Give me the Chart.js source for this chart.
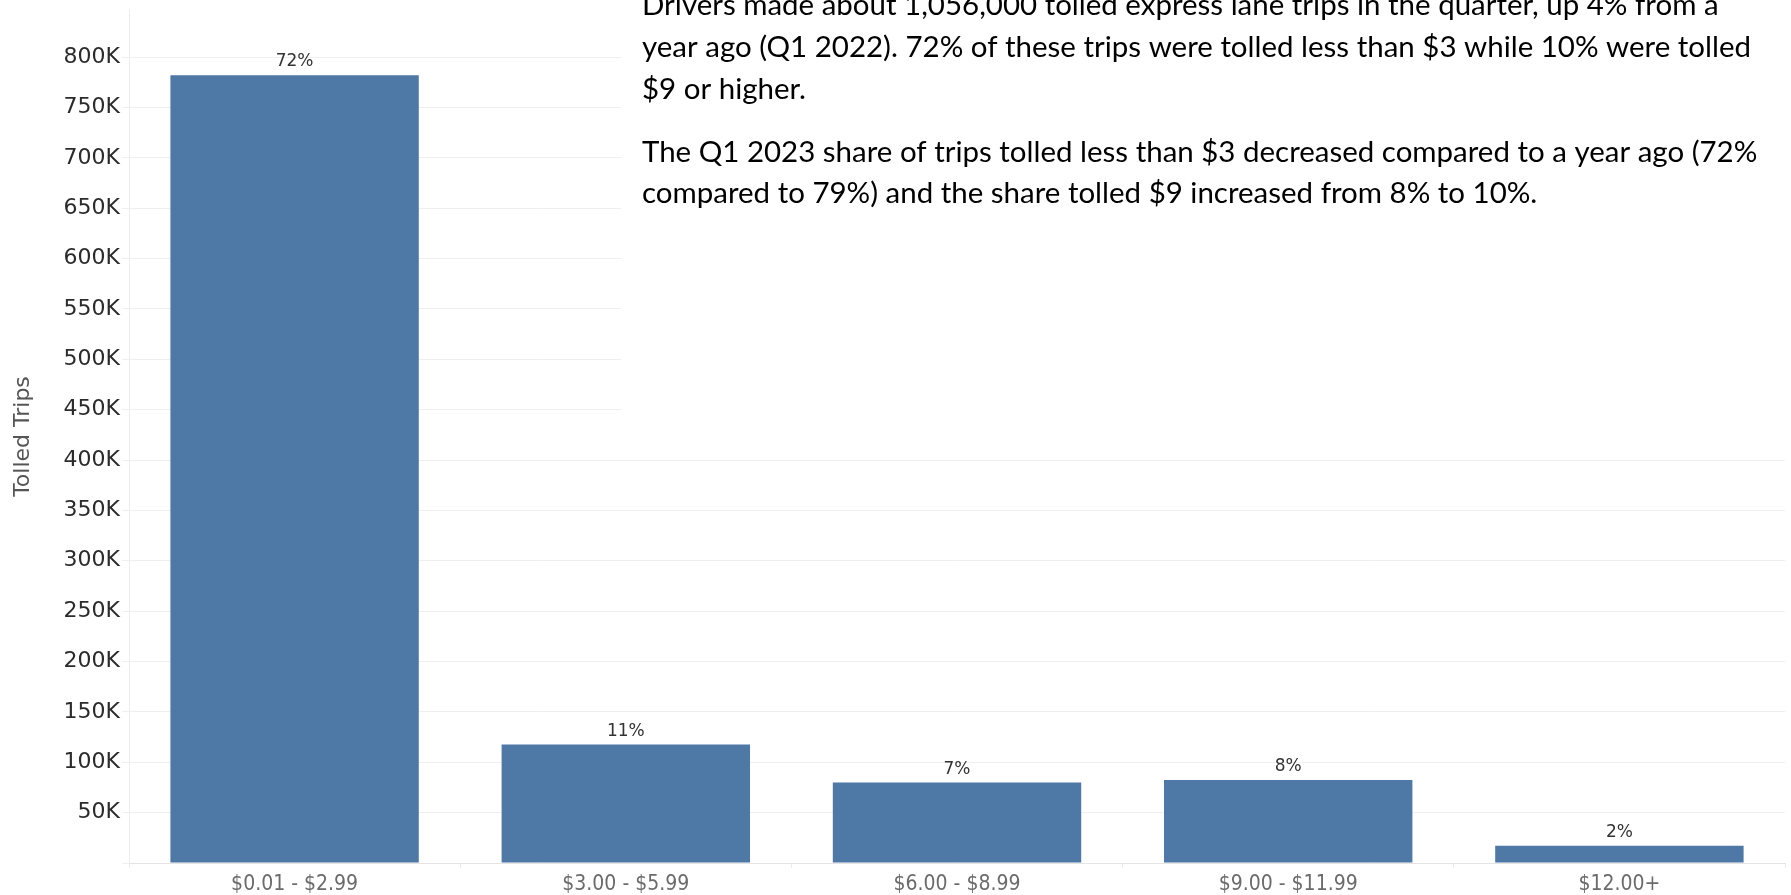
<!DOCTYPE html>
<html>
<head>
<meta charset="utf-8">
<title>Tolled Trips by Toll Range</title>
<script src="https://cdn.jsdelivr.net/npm/chart.js@4.4.0/dist/chart.umd.min.js"></script>
<style>
  html, body { margin: 0; padding: 0; background: #fff; }
  #wrap { position: relative; width: 1791px; height: 895px; }
</style>
</head>
<body>
<div id="wrap"><canvas id="chart" width="1791" height="895"></canvas></div>
<script>
// data
const categories = ['$0.01 - $2.99', '$3.00 - $5.99', '$6.00 - $8.99', '$9.00 - $11.99', '$12.00+'];
const tolledTrips = [782000, 117600, 79800, 82400, 17000];
const shareLabels = ['72%', '11%', '7%', '8%', '2%'];
const yTicks = [0, 50000, 100000, 150000, 200000, 250000, 300000, 350000, 400000,
                450000, 500000, 550000, 600000, 650000, 700000, 750000, 800000];
const noteLines = [
    'Drivers made about 1,056,000 tolled express lane trips in the quarter, up 4% from a',
    'year ago (Q1 2022). 72% of these trips were tolled less than $3 while 10% were tolled',
    '$9 or higher.',
    'The Q1 2023 share of trips tolled less than $3 decreased compared to a year ago (72%',
    'compared to 79%) and the share tolled $9 increased from 8% to 10%.'
];

const BAR_BLUE = '#4e79a7';

/**
 * Share label above each bar
 */
const barLabels = {
    id: 'barLabels',
    afterDatasetsDraw(chart) {
        const ctx = chart.ctx;
        const meta = chart.getDatasetMeta(0);
        ctx.save();
        ctx.font = '17px "DejaVu Sans"';
        ctx.fillStyle = '#333';
        ctx.textAlign = 'center';
        ctx.textBaseline = 'alphabetic';
        meta.data.forEach((bar, i) => {
            ctx.fillText(shareLabels[i], bar.x, bar.y - 9);
        });
        ctx.restore();
    }
};

/**
 * Commentary block over the top right of the plot
 */
const notePanel = {
    id: 'notePanel',
    afterDraw(chart) {
        const ctx = chart.ctx;
        const left = 642;
        const fitWidth = 1109;
        const baselines = [15, 57, 99, 162, 203];
        ctx.save();
        ctx.fillStyle = '#fff';
        ctx.fillRect(621, 0, chart.width - 621, 435);
        ctx.font = '28px Lato';
        ctx.fillStyle = '#000';
        ctx.textAlign = 'left';
        ctx.textBaseline = 'alphabetic';
        const sx = fitWidth / ctx.measureText(noteLines[1]).width;
        noteLines.forEach((line, i) => {
            ctx.save();
            ctx.translate(left, baselines[i]);
            ctx.scale(sx, 1);
            ctx.fillText(line, 0, 0);
            ctx.restore();
        });
        ctx.restore();
    }
};

const ctx = document.getElementById('chart').getContext('2d');

new Chart(ctx, {
    type: 'bar',
    data: {
        labels: categories,
        datasets: [{
            label: 'Tolled Trips',
            data: tolledTrips,
            backgroundColor: BAR_BLUE,
            borderWidth: 0,
            barPercentage: 0.75,
            categoryPercentage: 1.0
        }]
    },
    options: {
        responsive: false,
        animation: false,
        layout: { padding: { left: 0, top: 10, right: 6, bottom: 0 } },
        plugins: {
            legend: { display: false },
            tooltip: { enabled: false }
        },
        scales: {
            x: {
                offset: true,
                afterFit: s => { s.height = 32; s.paddingLeft = 0; s.paddingRight = 0; },
                border: { display: true, color: '#e4e4e4' },
                grid: { offset: true, drawOnChartArea: false, drawTicks: true, tickLength: 5, color: '#ebebeb' },
                ticks: {
                    padding: 4,
                    color: '#6b6b6b',
                    maxRotation: 0,
                    autoSkip: false,
                    font: { family: "'DejaVu Sans Condensed', 'DejaVu Sans'", size: 21 }
                }
            },
            y: {
                min: 0,
                max: 846700,
                afterBuildTicks: s => { s.ticks = yTicks.map(v => ({ value: v })); },
                afterFit: s => { s.width = 129; s.paddingTop = 0; s.paddingBottom = 0; },
                border: { display: true, color: '#ececec' },
                grid: { color: '#efefef', tickLength: 7, drawTicks: true },
                ticks: {
                    padding: 2,
                    color: '#2b2b2b',
                    font: { family: "'DejaVu Sans'", size: 22 },
                    callback: v => v === 0 ? '' : (v / 1000) + 'K'
                },
                title: {
                    display: true,
                    text: 'Tolled Trips',
                    color: '#555',
                    font: { family: "'DejaVu Sans'", size: 22 },
                    padding: { top: 10, bottom: 0 }
                }
            }
        }
    },
    plugins: [barLabels, notePanel]
});
</script>
</body>
</html>
